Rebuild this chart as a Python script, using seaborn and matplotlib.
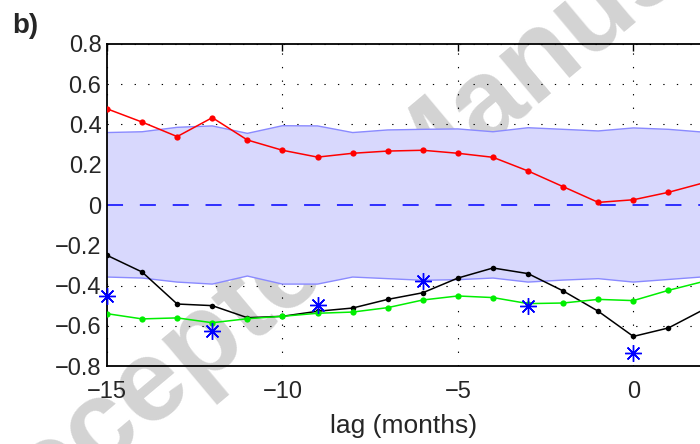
import numpy as np
import pandas as pd
import matplotlib
matplotlib.use("Agg")
import matplotlib.pyplot as plt
import seaborn as sns

# ---------------- data ----------------
lags = [-15, -14, -13, -12, -11, -10, -9, -8, -7, -6, -5, -4, -3, -2, -1, 0, 1, 2]
red = [0.478, 0.412, 0.340, 0.434, 0.323, 0.272, 0.238, 0.257, 0.268, 0.272,
       0.257, 0.237, 0.169, 0.091, 0.013, 0.026, 0.063, 0.110]
black = [-0.250, -0.333, -0.492, -0.500, -0.560, -0.553, -0.528, -0.512, -0.469, -0.436,
         -0.363, -0.313, -0.341, -0.427, -0.528, -0.653, -0.611, -0.520]
green = [-0.540, -0.566, -0.561, -0.585, -0.565, -0.553, -0.538, -0.532, -0.510, -0.472,
         -0.452, -0.460, -0.490, -0.487, -0.469, -0.475, -0.424, -0.380]
band_hi = [0.360, 0.364, 0.386, 0.393, 0.356, 0.394, 0.393, 0.360, 0.373, 0.376,
           0.378, 0.364, 0.384, 0.376, 0.368, 0.383, 0.376, 0.362]
band_lo = [-0.358, -0.363, -0.383, -0.393, -0.353, -0.393, -0.393, -0.358, -0.366, -0.374,
           -0.371, -0.363, -0.383, -0.373, -0.366, -0.383, -0.370, -0.357]
star_lags = [-15, -12, -9, -6, -3, 0]
star_vals = [-0.452, -0.628, -0.495, -0.376, -0.500, -0.735]

xticks = [-15, -10, -5, 0]
xticklabels = ["\u221215", "\u221210", "\u22125", "0"]
yticks = [-0.8, -0.6, -0.4, -0.2, 0, 0.2, 0.4, 0.6, 0.8]
yticklabels = ["\u22120.8", "\u22120.6", "\u22120.4", "\u22120.2", "0", "0.2", "0.4", "0.6", "0.8"]

df = pd.DataFrame({"lag": lags, "red": red, "black": black, "green": green})
stars = pd.DataFrame({"lag": star_lags, "val": star_vals})

# ---------------- style ----------------
sns.set_style("white")
plt.rcParams["font.family"] = ["Liberation Sans", "DejaVu Sans"]

fig = plt.figure(figsize=(7.0, 4.44), dpi=100)
fig.patch.set_facecolor("white")

# watermark (behind everything)
fig.text(414 / 700, 1 - 168 / 444, "Accepted Manuscript", rotation=40,
         rotation_mode="anchor", ha="center", va="center", fontsize=84,
         fontweight="bold", color="#d3d3d3", zorder=-5)

unit = 35.09
ax = fig.add_axes([107 / 700, 1 - 366 / 444, 18 * unit / 700, (366 - 44) / 444])
ax.patch.set_alpha(0.0)

ax.set_xlim(-15, 3)
ax.set_ylim(-0.8, 0.8)
ax.set_axisbelow(True)
ax.grid(True, color="black", linestyle=(0, (1.2, 11)), linewidth=0.8)

# confidence band
ax.fill_between(lags, band_lo, band_hi, facecolor="#d8d8fd", edgecolor="none", zorder=1)
ax.plot(lags, band_hi, color="#8a8aff", lw=1.0, zorder=1.2)
ax.plot(lags, band_lo, color="#8a8aff", lw=1.0, zorder=1.2)

# zero line
ax.axhline(0, color="#0000ff", lw=1.1, linestyle=(0, (10.5, 11)), zorder=2)

sns.lineplot(data=df, x="lag", y="red", ax=ax, color="#ff0000", lw=1.1,
             marker="o", markersize=4.5, markeredgewidth=0, zorder=3)
sns.lineplot(data=df, x="lag", y="black", ax=ax, color="#000000", lw=1.1,
             marker="o", markersize=4.0, markeredgewidth=0, zorder=3)
sns.lineplot(data=df, x="lag", y="green", ax=ax, color="#00ee00", lw=1.1,
             marker="o", markersize=4.5, markeredgewidth=0, zorder=3)
sns.lineplot(data=stars, x="lag", y="val", ax=ax, color="#0000ff", linestyle="none",
             marker=(8, 2, 0), markersize=12, markeredgewidth=1.0,
             markeredgecolor="#0000ff", markerfacecolor="#0000ff", zorder=4,
             clip_on=False)

ax.set_xticks(xticks)
ax.set_xticklabels(xticklabels)
ax.set_yticks(yticks)
ax.set_yticklabels(yticklabels)
ax.tick_params(axis="both", direction="in", length=5, width=1, color="black",
               labelsize=17, top=True, right=True)
ax.tick_params(axis="y", pad=4)
ax.tick_params(axis="x", pad=10.5)

ax.set_xlabel("lag (months)", fontsize=19)
ax.set_ylabel("")
ax.xaxis.set_label_coords((404 - 107) / (18 * unit), -0.15)

for s in ax.spines.values():
    s.set_color("black")
    s.set_linewidth(1.3)
    s.set_visible(True)

fig.text(12 / 700, 1 - 33 / 444, "b)", fontsize=20, fontweight="bold",
         ha="left", va="baseline")

fig.savefig("out.png", dpi=100)
